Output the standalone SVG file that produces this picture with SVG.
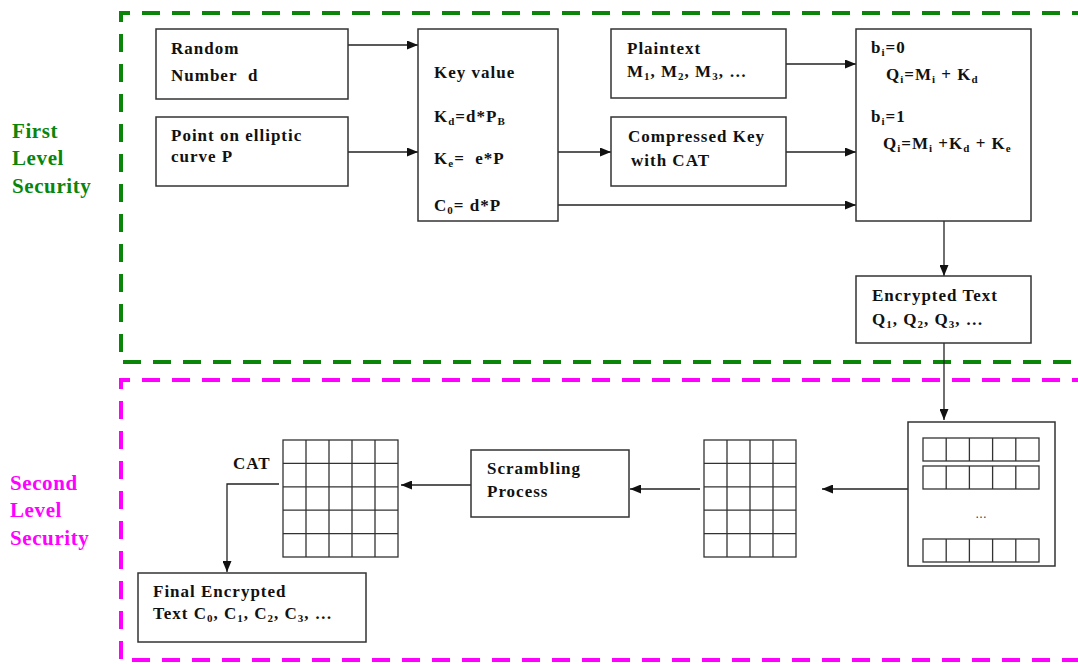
<svg xmlns="http://www.w3.org/2000/svg" width="1078" height="664" viewBox="0 0 1078 664">
<style>
.box{fill:#fff;stroke:#333;stroke-width:1.5}
.t{font-family:'Liberation Serif','Times New Roman',Times,serif;font-weight:bold;font-size:17px;letter-spacing:1px;fill:#111;white-space:pre}
.s{font-size:11px}
.g{fill:none;stroke:#333;stroke-width:1.3}
.c{fill:none;stroke:#222;stroke-width:1.3}
.side{font-family:'Liberation Serif','Times New Roman',Times,serif;font-weight:bold;font-size:21px;letter-spacing:0.6px}
</style>
<defs>
<marker id="ah" viewBox="0 0 11 9" refX="11" refY="4.5" markerWidth="11" markerHeight="9" markerUnits="userSpaceOnUse" orient="auto">
<path d="M0,0 L11,4.5 L0,9 z" fill="#111"/>
</marker>
</defs>
<rect x="0" y="0" width="1078" height="664" fill="#fff"/>
<g id="regions">
<path d="M1090,13 H121 V362 H1090" fill="none" stroke="#0a850a" stroke-width="4" stroke-dasharray="18 12"/>
<path d="M1090,380 H121 V660 H1090" fill="none" stroke="#ff00ff" stroke-width="4" stroke-dasharray="18 12"/>
<text class="side" fill="#0a850a" x="12" y="138">First</text>
<text class="side" fill="#0a850a" x="12" y="165">Level</text>
<text class="side" fill="#0a850a" x="12" y="193">Security</text>
<text class="side" fill="#ff00ff" x="10" y="490">Second</text>
<text class="side" fill="#ff00ff" x="10" y="517">Level</text>
<text class="side" fill="#ff00ff" x="10" y="545">Security</text>
</g>
<g id="connectors">
<path class="c" d="M348,45 H418" marker-end="url(#ah)"/>
<path class="c" d="M348,152 H418" marker-end="url(#ah)"/>
<path class="c" d="M558,152 H611" marker-end="url(#ah)"/>
<path class="c" d="M786,64 H856" marker-end="url(#ah)"/>
<path class="c" d="M786,152 H856" marker-end="url(#ah)"/>
<path class="c" d="M558,205 H856" marker-end="url(#ah)"/>
<path class="c" d="M944,221 V276" marker-end="url(#ah)"/>
<path class="c" d="M944,343 V420" marker-end="url(#ah)"/>
<path class="c" d="M908,489 H822" marker-end="url(#ah)"/>
<path class="c" d="M700,489 H630" marker-end="url(#ah)"/>
<path class="c" d="M471,485 H401" marker-end="url(#ah)"/>
<path class="c" d="M279,484 H227 V572" marker-end="url(#ah)"/>
</g>
<g id="random">
<rect class="box" x="156" y="29" width="192" height="70"/>
<text class="t" x="171" y="54">Random</text>
<text class="t" x="171" y="81">Number&#160;&#160;d</text>
</g>
<g id="point">
<rect class="box" x="156" y="117" width="192" height="69"/>
<text class="t" x="171" y="141">Point on elliptic</text>
<text class="t" x="171" y="162">curve P</text>
</g>
<g id="keyvalue">
<rect class="box" x="418" y="29" width="140" height="192"/>
<text class="t" x="434" y="78">Key value</text>
<text class="t" x="434" y="122">K<tspan class="s" dy="3">d</tspan><tspan dy="-3">=d*P</tspan><tspan class="s" dy="3">B</tspan></text>
<text class="t" x="434" y="164">K<tspan class="s" dy="3">e</tspan><tspan dy="-3">=&#160;&#160;e*P</tspan></text>
<text class="t" x="434" y="211">C<tspan class="s" dy="3">0</tspan><tspan dy="-3">= d*P</tspan></text>
</g>
<g id="plaintext">
<rect class="box" x="611" y="29" width="175" height="69"/>
<text class="t" x="627" y="54">Plaintext</text>
<text class="t" x="627" y="77">M<tspan class="s" dy="3">1</tspan><tspan dy="-3">, M</tspan><tspan class="s" dy="3">2</tspan><tspan dy="-3">, M</tspan><tspan class="s" dy="3">3</tspan><tspan dy="-3">, …</tspan></text>
</g>
<g id="compressed">
<rect class="box" x="611" y="117" width="175" height="69"/>
<text class="t" x="628" y="142">Compressed Key</text>
<text class="t" x="631" y="166">with CAT</text>
</g>
<g id="encrypt">
<rect class="box" x="856" y="29" width="175" height="192"/>
<text class="t" x="871" y="53">b<tspan class="s" dy="3">i</tspan><tspan dy="-3">=0</tspan></text>
<text class="t" x="886" y="80">Q<tspan class="s" dy="3">i</tspan><tspan dy="-3">=M</tspan><tspan class="s" dy="3">i</tspan><tspan dy="-3"> + K</tspan><tspan class="s" dy="3">d</tspan></text>
<text class="t" x="871" y="122">b<tspan class="s" dy="3">i</tspan><tspan dy="-3">=1</tspan></text>
<text class="t" x="883" y="149">Q<tspan class="s" dy="3">i</tspan><tspan dy="-3">=M</tspan><tspan class="s" dy="3">i</tspan><tspan dy="-3"> +K</tspan><tspan class="s" dy="3">d</tspan><tspan dy="-3"> + K</tspan><tspan class="s" dy="3">e</tspan></text>
</g>
<g id="encrypted-text">
<rect class="box" x="856" y="276" width="175" height="67"/>
<text class="t" x="872" y="301">Encrypted Text</text>
<text class="t" x="872" y="325">Q<tspan class="s" dy="3">1</tspan><tspan dy="-3">, Q</tspan><tspan class="s" dy="3">2</tspan><tspan dy="-3">, Q</tspan><tspan class="s" dy="3">3</tspan><tspan dy="-3">, …</tspan></text>
</g>
<g id="stack">
<rect class="box" x="908" y="422" width="147" height="144"/>
<rect class="g" x="923" y="438" width="116" height="23"/>
<path class="g" d="M946.2,438 V461 M969.4,438 V461 M992.6,438 V461 M1015.8,438 V461"/>
<rect class="g" x="923" y="466" width="116" height="23"/>
<path class="g" d="M946.2,466 V489 M969.4,466 V489 M992.6,466 V489 M1015.8,466 V489"/>
<rect class="g" x="923" y="539" width="116" height="23"/>
<path class="g" d="M946.2,539 V562 M969.4,539 V562 M992.6,539 V562 M1015.8,539 V562"/>
<text x="981" y="518" font-family="Liberation Sans,sans-serif" font-size="12" fill="#333" text-anchor="middle">…</text>
</g>
<g id="grid2">
<rect class="g" x="704" y="440" width="92" height="117"/>
<path class="g" d="M727,440 V557 M750,440 V557 M773,440 V557 M704,463.4 H796 M704,486.8 H796 M704,510.2 H796 M704,533.6 H796"/>
</g>
<g id="scrambling">
<rect class="box" x="471" y="450" width="158" height="67"/>
<text class="t" x="487" y="474">Scrambling</text>
<text class="t" x="487" y="497">Process</text>
</g>
<g id="cat-grid">
<rect class="g" x="283" y="440" width="115" height="117"/>
<path class="g" d="M306,440 V557 M329,440 V557 M352,440 V557 M375,440 V557 M283,463.4 H398 M283,486.8 H398 M283,510.2 H398 M283,533.6 H398"/>
<text class="t" x="233" y="469">CAT</text>
</g>
<g id="final">
<rect class="box" x="138" y="573" width="228" height="69"/>
<text class="t" x="153" y="597">Final Encrypted</text>
<text class="t" x="153" y="619">Text C<tspan class="s" dy="3">0</tspan><tspan dy="-3">, C</tspan><tspan class="s" dy="3">1</tspan><tspan dy="-3">, C</tspan><tspan class="s" dy="3">2</tspan><tspan dy="-3">, C</tspan><tspan class="s" dy="3">3</tspan><tspan dy="-3">, …</tspan></text>
</g>
</svg>
